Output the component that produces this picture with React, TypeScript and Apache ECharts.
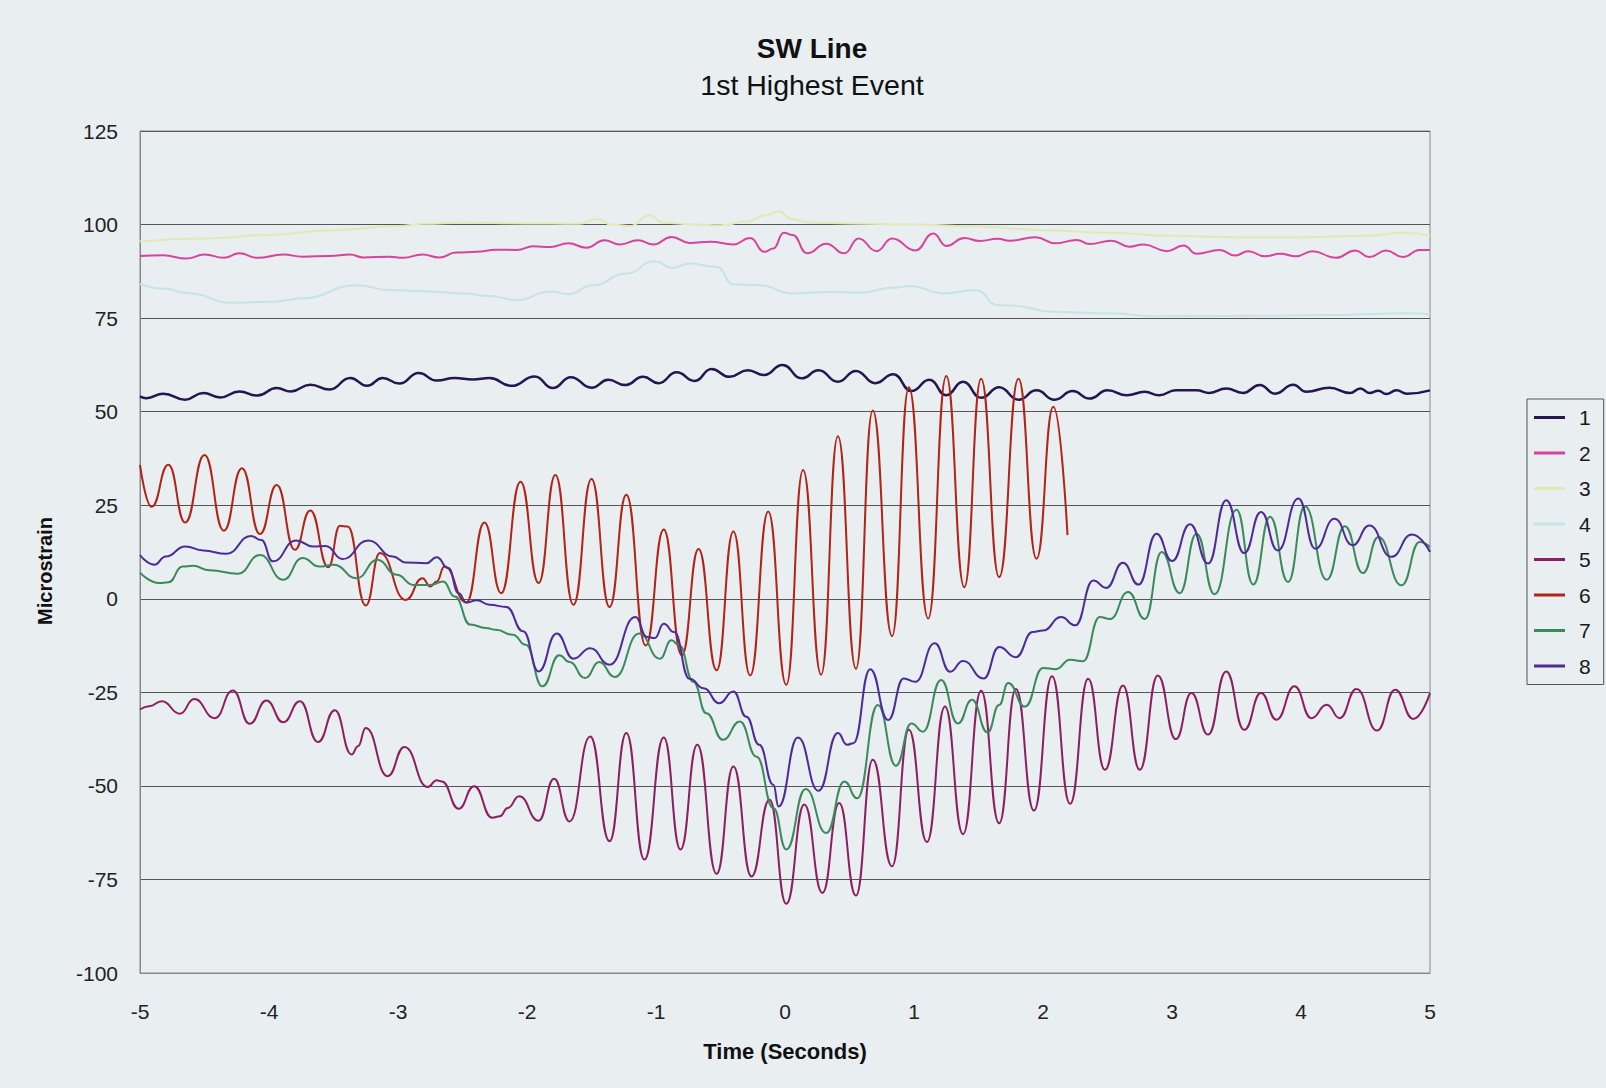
import React, { useEffect, useRef } from "react";
import * as echarts from "echarts";

const FONT = "'Liberation Sans', Arial, sans-serif";

const titleText = "SW Line";
const subtitleText = "1st Highest Event";
const xAxisName = "Time (Seconds)";
const yAxisName = "Microstrain";

const seriesNames = ["1", "2", "3", "4", "5", "6", "7", "8"];
const seriesColors = ["#25164f", "#d6449c", "#e0eab4", "#c6e4e2", "#8c1f62", "#b0241a", "#3b8a5c", "#4f2a99"];

const s1: [number, number][] = [
  [-5.0, 54.1], [-4.95, 53.6], [-4.82, 54.8], [-4.65, 53.2], [-4.51, 55.0], [-4.38, 53.8], [-4.23, 55.4], [-4.09, 54.3],
  [-3.94, 56.3], [-3.83, 55.4], [-3.68, 57.2], [-3.53, 55.9], [-3.37, 59.0], [-3.24, 56.9], [-3.12, 59.0], [-2.99, 57.5],
  [-2.84, 60.3], [-2.70, 58.3], [-2.56, 59.0], [-2.42, 58.6], [-2.29, 59.0], [-2.12, 56.9], [-1.94, 59.4], [-1.80, 56.3],
  [-1.66, 59.2], [-1.50, 56.4], [-1.37, 58.5], [-1.24, 57.1], [-1.10, 59.3], [-0.98, 57.6], [-0.84, 60.5], [-0.70, 58.2],
  [-0.57, 61.4], [-0.43, 59.3], [-0.29, 61.1], [-0.16, 59.8], [-0.02, 62.5], [0.13, 58.9], [0.26, 61.1], [0.41, 58.0],
  [0.55, 60.9], [0.70, 57.6], [0.84, 60.0], [0.98, 55.5], [1.12, 58.5], [1.25, 54.4], [1.38, 58.0], [1.52, 53.7],
  [1.66, 56.5], [1.81, 53.2], [1.95, 55.7], [2.09, 53.2], [2.23, 55.5], [2.36, 53.5], [2.50, 55.7], [2.65, 54.4],
  [2.79, 55.3], [2.90, 54.4], [3.03, 55.7], [3.19, 55.7], [3.29, 55.0], [3.42, 56.2], [3.55, 55.0], [3.68, 57.1],
  [3.80, 54.8], [3.94, 57.2], [4.04, 55.3], [4.22, 56.4], [4.38, 55.0], [4.46, 56.2], [4.53, 55.0], [4.60, 55.6],
  [4.66, 54.7], [4.74, 55.7], [4.82, 54.8], [5.0, 55.7],
];

const s2: [number, number][] = [
  [-5.0, 91.6], [-4.82, 91.8], [-4.64, 90.9], [-4.50, 92.0], [-4.35, 91.1], [-4.23, 92.3], [-4.09, 91.1], [-3.89, 92.0],
  [-3.74, 91.4], [-3.53, 91.6], [-3.37, 92.0], [-3.27, 91.2], [-3.07, 91.4], [-2.96, 91.1], [-2.81, 92.0], [-2.68, 91.2],
  [-2.55, 92.5], [-2.39, 92.7], [-2.24, 93.3], [-2.08, 93.2], [-1.95, 94.2], [-1.82, 94.0], [-1.68, 95.0], [-1.54, 93.8],
  [-1.40, 95.8], [-1.28, 94.7], [-1.14, 95.8], [-1.02, 94.7], [-0.88, 96.7], [-0.74, 95.1], [-0.58, 95.4], [-0.40, 94.7],
  [-0.27, 96.4], [-0.16, 92.7], [-0.09, 93.6], [-0.01, 97.8], [0.06, 97.2], [0.17, 92.3], [0.32, 94.9], [0.46, 92.3],
  [0.57, 96.3], [0.71, 92.9], [0.83, 96.3], [1.01, 93.1], [1.15, 97.6], [1.25, 94.3], [1.39, 96.4], [1.51, 95.6],
  [1.65, 96.2], [1.74, 95.7], [1.94, 96.6], [2.10, 95.0], [2.26, 95.9], [2.36, 94.8], [2.53, 95.7], [2.67, 94.1],
  [2.78, 94.7], [2.96, 92.9], [3.09, 94.4], [3.19, 92.2], [3.37, 93.2], [3.49, 91.7], [3.59, 92.9], [3.72, 91.5],
  [3.84, 92.2], [3.96, 91.5], [4.09, 92.9], [4.27, 91.1], [4.42, 93.1], [4.53, 91.3], [4.66, 93.1], [4.79, 91.3],
  [4.92, 93.2], [5.0, 93.2],
];

const s3: [number, number][] = [
  [-5.0, 95.5], [-4.5, 96.3], [-4.0, 97.2], [-3.5, 98.5], [-3.0, 99.6], [-2.8, 100.2], [-2.5, 100.5], [-2.0, 100.3],
  [-1.6, 100.2], [-1.45, 101.5], [-1.35, 100.0], [-1.2, 99.6], [-1.05, 102.5], [-0.95, 100.5], [-0.7, 100.0],
  [-0.5, 99.8], [-0.3, 100.8], [-0.15, 102.5], [-0.05, 103.5], [0.05, 101.5], [0.2, 100.5], [0.5, 100.3], [1.0, 100.0],
  [1.5, 99.5], [2.0, 98.5], [2.5, 97.8], [3.0, 97.0], [3.5, 96.6], [4.0, 96.6], [4.5, 97.0], [4.8, 97.8], [5.0, 97.0],
];

const s4: [number, number][] = [
  [-5.0, 84.1], [-4.82, 82.9], [-4.61, 81.6], [-4.30, 79.1], [-3.97, 79.4], [-3.74, 80.3], [-3.32, 83.8], [-3.07, 82.5],
  [-2.81, 82.2], [-2.50, 81.6], [-2.29, 80.9], [-2.08, 79.8], [-1.82, 82.1], [-1.68, 81.4], [-1.49, 83.8], [-1.23, 86.9],
  [-1.01, 90.2], [-0.87, 88.4], [-0.74, 89.6], [-0.53, 88.7], [-0.40, 84.0], [-0.20, 83.8], [0.06, 81.6], [0.32, 82.0],
  [0.58, 81.8], [0.84, 83.1], [0.97, 83.6], [1.23, 81.6], [1.48, 82.5], [1.65, 78.5], [1.74, 78.4], [2.10, 76.6],
  [2.54, 76.2], [2.88, 75.5], [3.65, 75.6], [4.17, 75.8], [4.82, 76.3], [5.0, 76.0],
];

const s5: [number, number][] = [
  [-5.0, -29.6], [-4.93, -28.7], [-4.83, -27.4], [-4.69, -30.7], [-4.58, -26.8], [-4.42, -31.9], [-4.28, -24.5],
  [-4.15, -33.4], [-4.02, -27.2], [-3.89, -33.0], [-3.76, -27.4], [-3.62, -38.3], [-3.49, -29.8], [-3.36, -41.6],
  [-3.31, -39.4], [-3.25, -34.5], [-3.08, -47.4], [-2.95, -39.6], [-2.77, -50.3], [-2.70, -48.5], [-2.66, -48.8],
  [-2.53, -56.1], [-2.41, -50.1], [-2.27, -58.5], [-2.21, -58.1], [-2.15, -55.9], [-2.06, -52.8], [-1.91, -59.3],
  [-1.79, -48.1], [-1.67, -59.5], [-1.51, -36.8], [-1.36, -64.8], [-1.23, -35.9], [-1.09, -69.7], [-0.94, -37.1],
  [-0.81, -67.0], [-0.68, -39.0], [-0.53, -73.5], [-0.40, -44.8], [-0.26, -74.2], [-0.12, -53.7], [0.01, -81.5],
  [0.15, -55.0], [0.29, -78.6], [0.42, -54.6], [0.55, -79.3], [0.68, -43.0], [0.83, -71.5], [0.96, -35.0],
  [1.10, -65.0], [1.24, -28.8], [1.38, -62.9], [1.52, -24.6], [1.66, -60.0], [1.79, -24.1], [1.93, -56.6],
  [2.07, -20.7], [2.21, -54.8], [2.35, -21.4], [2.48, -45.7], [2.62, -23.2], [2.75, -45.7], [2.89, -20.5],
  [3.03, -37.5], [3.15, -25.2], [3.28, -36.3], [3.42, -19.4], [3.56, -35.0], [3.69, -25.2], [3.81, -32.3],
  [3.95, -23.4], [4.08, -31.9], [4.20, -28.3], [4.30, -31.9], [4.43, -24.1], [4.59, -35.2], [4.73, -24.3],
  [4.87, -32.1], [5.0, -25.2],
];

const s6: [number, number][] = [
  [-5.0, 35.8], [-4.91, 24.6], [-4.78, 35.8], [-4.65, 20.4], [-4.50, 38.4], [-4.35, 18.2], [-4.21, 34.9], [-4.07, 17.3],
  [-3.94, 30.4], [-3.80, 13.1], [-3.68, 23.6], [-3.54, 8.4], [-3.45, 19.5], [-3.39, 19.3], [-3.25, -1.8], [-3.14, 12.2],
  [-2.94, -0.3], [-2.81, 5.5], [-2.75, 3.3], [-2.70, 4.6], [-2.64, 8.6], [-2.47, -1.0], [-2.33, 20.4], [-2.20, 1.5],
  [-2.05, 31.3], [-1.91, 4.2], [-1.78, 33.1], [-1.64, -1.6], [-1.50, 32.0], [-1.36, -2.2], [-1.23, 27.8], [-1.08, -12.5],
  [-0.94, 18.5], [-0.80, -15.1], [-0.67, 13.3], [-0.53, -19.1], [-0.40, 18.0], [-0.27, -20.5], [-0.13, 23.3],
  [0.01, -23.0], [0.14, 34.4], [0.28, -20.3], [0.41, 43.4], [0.55, -18.7], [0.68, 50.3], [0.83, -10.0], [0.96, 56.5],
  [1.11, -5.3], [1.25, 59.5], [1.39, 3.1], [1.52, 58.8], [1.66, 5.8], [1.81, 58.8], [1.95, 10.7], [2.08, 51.3],
  [2.19, 17.0],
];

const s7: [number, number][] = [
  [-5.0, 7.0], [-4.85, 4.2], [-4.78, 4.4], [-4.67, 8.6], [-4.59, 8.8], [-4.46, 7.6], [-4.24, 6.7], [-4.07, 11.7],
  [-3.89, 5.1], [-3.74, 10.9], [-3.61, 8.6], [-3.50, 9.1], [-3.32, 5.5], [-3.16, 10.4], [-3.01, 6.4], [-2.88, 3.7],
  [-2.75, 3.7], [-2.65, 4.6], [-2.56, 0.6], [-2.44, -6.9], [-2.32, -7.8], [-2.24, -8.3], [-2.11, -9.6], [-2.01, -12.3],
  [-1.88, -23.4], [-1.75, -15.1], [-1.67, -16.9], [-1.55, -21.2], [-1.44, -16.9], [-1.32, -20.9], [-1.13, -9.3],
  [-0.97, -16.0], [-0.88, -11.1], [-0.82, -12.5], [-0.71, -22.2], [-0.61, -30.6], [-0.48, -37.7], [-0.35, -32.8],
  [-0.22, -42.2], [-0.09, -55.9], [0.01, -67.0], [0.16, -50.8], [0.32, -62.6], [0.46, -48.8], [0.56, -53.3],
  [0.72, -28.4], [0.86, -44.6], [0.98, -33.3], [1.07, -35.5], [1.21, -21.7], [1.34, -33.3], [1.45, -27.0],
  [1.57, -35.7], [1.66, -28.4], [1.73, -22.5], [1.86, -28.8], [2.00, -18.5], [2.10, -18.8], [2.21, -16.3],
  [2.31, -16.7], [2.44, -4.9], [2.52, -5.4], [2.66, 1.8], [2.79, -5.4], [2.92, 12.5], [3.06, 1.5], [3.19, 17.4],
  [3.33, 1.2], [3.50, 23.8], [3.63, 3.8], [3.76, 21.9], [3.90, 4.5], [4.03, 24.7], [4.20, 5.1], [4.34, 19.4],
  [4.48, 6.9], [4.60, 16.5], [4.78, 3.6], [4.92, 15.2], [5.0, 13.8],
];

const s8: [number, number][] = [
  [-5.0, 11.7], [-4.89, 9.1], [-4.80, 11.3], [-4.65, 14.0], [-4.51, 12.9], [-4.33, 12.0], [-4.14, 16.8], [-4.06, 15.7],
  [-3.97, 10.0], [-3.79, 15.6], [-3.66, 14.0], [-3.56, 14.1], [-3.43, 10.6], [-3.23, 15.6], [-3.04, 11.3], [-2.94, 9.7],
  [-2.78, 9.5], [-2.70, 11.1], [-2.61, 8.2], [-2.53, 1.5], [-2.47, -1.0], [-2.39, -0.4], [-2.29, -1.6], [-2.16, -2.2],
  [-2.03, -8.7], [-1.91, -19.4], [-1.77, -9.3], [-1.64, -16.0], [-1.51, -13.2], [-1.36, -17.6], [-1.16, -4.9],
  [-1.07, -10.2], [-1.01, -10.5], [-0.94, -6.7], [-0.86, -8.9], [-0.74, -21.4], [-0.63, -23.9], [-0.51, -27.9],
  [-0.40, -24.8], [-0.30, -31.5], [-0.20, -39.0], [-0.09, -49.7], [-0.05, -55.5], [0.10, -37.1], [0.26, -51.3],
  [0.41, -35.9], [0.48, -39.0], [0.53, -38.6], [0.66, -18.8], [0.80, -32.4], [0.92, -21.3], [1.01, -22.2],
  [1.16, -11.9], [1.28, -19.5], [1.38, -16.6], [1.54, -21.3], [1.66, -12.9], [1.79, -15.6], [1.92, -8.9],
  [2.00, -8.5], [2.14, -4.9], [2.25, -7.1], [2.39, 4.9], [2.49, 2.9], [2.62, 9.6], [2.74, 3.8], [2.88, 17.4],
  [3.00, 10.1], [3.14, 19.9], [3.28, 9.4], [3.42, 26.3], [3.56, 12.2], [3.69, 23.2], [3.82, 12.9], [3.98, 26.8],
  [4.11, 13.4], [4.26, 21.4], [4.40, 14.3], [4.53, 19.6], [4.70, 11.2], [4.86, 17.2], [5.0, 12.5],
];

const seriesData = [s1, s2, s3, s4, s5, s6, s7, s8];

const X_MIN = -5;
const X_MAX = 5;
const X_STEP = 1;
const Y_MIN = -100;
const Y_MAX = 125;
const Y_STEP = 25;

export default function App() {
  const ref = useRef<HTMLDivElement>(null);

  useEffect(() => {
    document.body.style.margin = "0";
    document.body.style.background = "#e9eef0";
    const chart = echarts.init(ref.current!, null, { renderer: "svg" });
    chart.setOption({
      animation: false,
      backgroundColor: "#e9eef0",
      textStyle: { fontFamily: FONT },
      title: {
        text: titleText,
        subtext: subtitleText,
        left: 807,
        top: 29,
        textAlign: "center",
        itemGap: 8,
        textStyle: { fontFamily: FONT, fontSize: 28, fontWeight: "bold", color: "#111" },
        subtextStyle: { fontFamily: FONT, fontSize: 28.5, fontWeight: "normal", color: "#111" },
      },
      graphic: [
        {
          type: "text",
          x: 45,
          y: 571,
          rotation: Math.PI / 2,
          style: {
            text: yAxisName,
            fontFamily: FONT,
            fontSize: 20,
            fontWeight: "bold",
            fill: "#111",
            align: "center",
            verticalAlign: "middle",
          },
        },
      ],
      legend: {
        orient: "vertical",
        left: 1527,
        top: 399,
        icon: "rect",
        itemWidth: 31,
        itemHeight: 3,
        itemGap: 14.5,
        padding: [8, 13, 8, 7],
        borderColor: "#555",
        borderWidth: 1,
        textStyle: { fontFamily: FONT, fontSize: 21, color: "#1a1a1a", padding: [0, 0, 0, 9] },
        data: seriesNames,
      },
      grid: { left: 140, right: 176, top: 131, bottom: 115, show: true, borderColor: "#888", borderWidth: 1, backgroundColor: "transparent" },
      xAxis: {
        type: "value",
        min: X_MIN,
        max: X_MAX,
        interval: X_STEP,
        name: xAxisName,
        nameLocation: "middle",
        nameGap: 67,
        nameTextStyle: { fontFamily: FONT, fontSize: 22, fontWeight: "bold", color: "#111" },
        axisLine: { show: true, onZero: false, lineStyle: { color: "#888" } },
        axisTick: { show: false },
        splitLine: { show: false },
        axisLabel: { fontFamily: FONT, fontSize: 21, color: "#222", margin: 28 },
      },
      yAxis: {
        type: "value",
        min: Y_MIN,
        max: Y_MAX,
        interval: Y_STEP,
        axisLine: { show: true, onZero: false, lineStyle: { color: "#888" } },
        axisTick: { show: false },
        splitLine: { show: true, lineStyle: { color: "#555", width: 1 } },
        axisLabel: { fontFamily: FONT, fontSize: 21, color: "#222", margin: 22 },
      },
      series: seriesData.map((d, i) => ({
        name: seriesNames[i],
        type: "line",
        data: d,
        symbol: "none",
        smooth: 0.5,
        smoothMonotone: "x",
        lineStyle: { color: seriesColors[i], width: i === 0 ? 2.5 : 2 },
        itemStyle: { color: seriesColors[i] },
      })),
    });
    return () => chart.dispose();
  }, []);

  return <div ref={ref} style={{ width: 1606, height: 1088 }} />;
}
